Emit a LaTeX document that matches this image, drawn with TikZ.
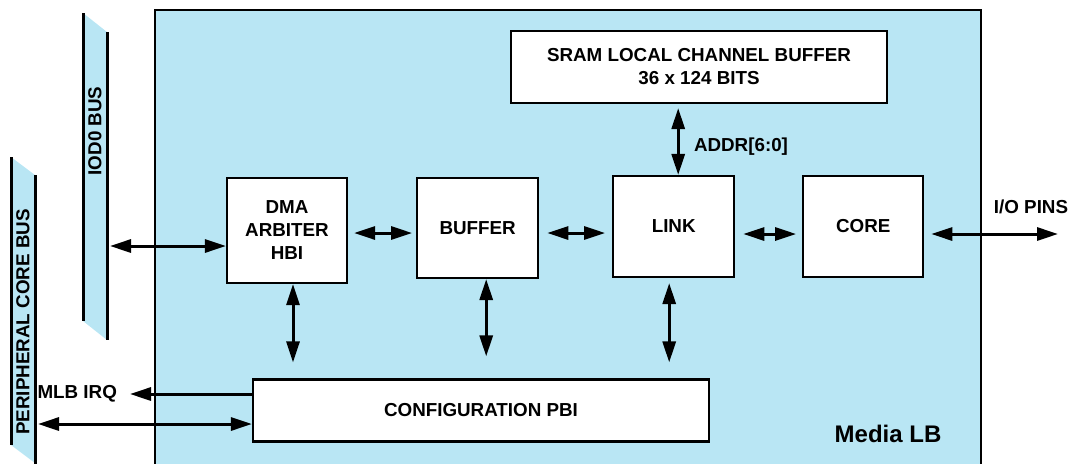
\documentclass[tikz,border=0pt]{standalone}
\usepackage{fontspec}
\setmainfont{Liberation Sans}
\usetikzlibrary{positioning, arrows.meta}
\definecolor{mlbblue}{RGB}{185,230,244}
\tikzstyle{block}=[draw,fill=white,rectangle,line width=1.1pt,inner sep=0pt,align=center]
\tikzstyle{every node}=[font=\fontsize{9.4}{11.5}\selectfont\bfseries]
\tikzstyle{bus}=[fill=mlbblue]
\tikzstyle{busline}=[line width=1.5pt]
\tikzstyle{wire}=[line width=1.5pt]

\begin{document}
\begin{tikzpicture}[x=0.5pt, y=-0.5pt, >={Triangle[length=10.5pt,width=6.5pt]}]
            \useasboundingbox (0,0) rectangle (1075,463);
            % media LB area
            \draw[fill=mlbblue, line width=1.4pt] (155,470) |- (981,10) -- (981,470);
            % buses
            \fill[bus] (83,13) -- (107,32) -- (107,340) -- (83,321) -- cycle;
            \draw[busline] (83,13) -- (83,321) (107,32) -- (107,340);
            \node[rotate=90] (iodbus) at (95,131) {IOD0 BUS};
            \fill[bus] (11,157) -- (35,175) -- (35,463) -- (11,445) -- cycle;
            \draw[busline] (11,157) -- (11,445) (35,175) -- (35,470);
            \node[rotate=90] (pcbus) at (23,322) {PERIPHERAL CORE BUS};
            % blocks
            \node[block, minimum width=188pt, minimum height=36pt] (sram) at (699,67) {SRAM LOCAL CHANNEL BUFFER\\36 x 124 BITS};
            \node[block, minimum width=60pt, minimum height=52.5pt] (dma) at (287,230.5) {DMA\\ARBITER\\HBI};
            \node[block, minimum width=60.5pt, minimum height=50pt, right=34pt of dma, yshift=1.25pt] (buf) {BUFFER};
            \node[block, minimum width=60.5pt, minimum height=50.5pt, right=36.4pt of buf, yshift=0.75pt] (link) {LINK};
            \node[block, minimum width=60pt, minimum height=50.5pt, right=33.4pt of link] (core) {CORE};
            \node[block, minimum width=228pt, minimum height=31pt] (cfg) at (481,410.5) {CONFIGURATION PBI};
            \node (addr) at (741,147) {ADDR[6:0]};
            \node (iopins) at (1031,207) {I/O PINS};
            \node[font=\fontsize{12}{14}\selectfont\bfseries] (mlb) at (888,434) {Media LB};
            \coordinate (iod) at (110,246);
            \coordinate (pcb) at (38,424);
            \coordinate (irq) at (130,394);
            \coordinate (io) at (1058,234);
            \node[left=3pt of irq] (irqlabel) {MLB IRQ};
            % connections
            \draw[wire, <->] (iod) -- (iod -| dma.west);
            \draw[wire, <->, shorten <=3pt, shorten >=2pt] ([yshift=-1.25pt]dma.east) -- ([yshift=-2.5pt]buf.west);
            \draw[wire, <->, shorten <=4pt, shorten >=3.5pt] ([yshift=-2.5pt]buf.east) -- ([yshift=-2.5pt]buf.east -| link.west);
            \draw[wire, <->, shorten <=4pt, shorten >=3pt] ([yshift=-3.75pt]link.east) -- ([yshift=-3.75pt]core.west);
            \draw[wire, <->, shorten <=3.5pt] ([yshift=-3.75pt]core.east) -- (io);
            \draw[wire, <->, shorten >=2pt] ([xshift=2.25pt]link.north) -- ([xshift=2.25pt]link.north |- sram.south);
            \draw[wire, <->, shorten >=8pt] ([xshift=3pt]dma.south) -- ([xshift=3pt]dma.south |- cfg.north);
            \draw[wire, <->, shorten >=11pt] ([xshift=4.25pt]buf.south) -- ([xshift=4.25pt]buf.south |- cfg.north);
            \draw[wire, <->, shorten <=2.5pt, shorten >=8pt] ([xshift=-2.25pt]link.south) -- ([xshift=-2.25pt]link.south |- cfg.north);
            \draw[wire, ->] (irq -| cfg.west) -- (irq);
            \draw[wire, <->] (pcb) -- (pcb -| cfg.west);
        \end{tikzpicture}
\end{document}
